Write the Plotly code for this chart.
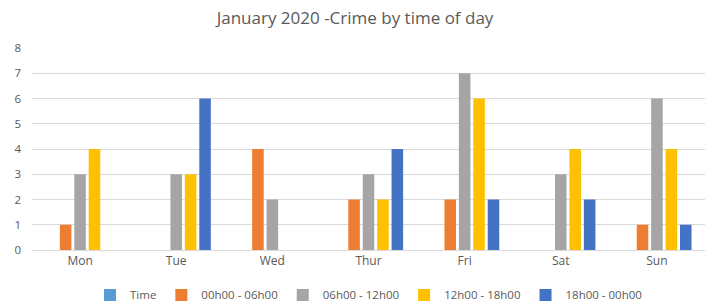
import plotly.graph_objects as go

days = ["Mon", "Tue", "Wed", "Thur", "Fri", "Sat", "Sun"]
series_names = ["Time", "00h00 - 06h00", "06h00 - 12h00", "12h00 - 18h00", "18h00 - 00h00"]
time_vals = [0, 0, 0, 0, 0, 0, 0]
night = [1, 0, 4, 2, 2, 0, 1]
morning = [3, 3, 2, 3, 7, 3, 6]
afternoon = [4, 3, 0, 2, 6, 4, 4]
evening = [0, 6, 0, 4, 2, 2, 1]
colors = ["#5B9BD5", "#ED7D31", "#A5A5A5", "#FFC000", "#4472C4"]

fig = go.Figure()
for name, vals, c in zip(series_names, [time_vals, night, morning, afternoon, evening], colors):
    fig.add_trace(go.Bar(x=days, y=vals, name=name, marker=dict(color=c, line=dict(width=0))))

fig.update_layout(
    width=710, height=306,
    paper_bgcolor="white", plot_bgcolor="white",
    margin=dict(l=32, r=5, t=48, b=56, autoexpand=False),
    title=dict(text="January 2020 -Crime by time of day", x=0.5, xanchor="center",
               yref="container", y=0.94, yanchor="middle",
               font=dict(family="Open Sans, Liberation Sans, sans-serif", size=17, color="#595959")),
    barmode="group", bargap=0.25, bargroupgap=0.2,
    font=dict(family="Open Sans, Liberation Sans, sans-serif", size=11, color="#595959"),
    legend=dict(orientation="h", x=0.5, xanchor="center", yref="container", y=0.036, yanchor="middle",
                font=dict(size=11.5, color="#595959"), itemwidth=30, traceorder="normal"),
    xaxis=dict(showgrid=False, showline=True, linecolor="#d9d9d9", ticks="", automargin=False,
               tickfont=dict(size=12)),
    yaxis=dict(range=[0, 8], dtick=1, showgrid=True, gridcolor="#d9d9d9", zeroline=False,
               showline=False, ticks="", automargin=False, tickfont=dict(size=11.5),
               ticklabelstandoff=10),
)
fig.write_html("out.html", config={"displayModeBar": False},
               post_script="document.body.style.margin='0';")
